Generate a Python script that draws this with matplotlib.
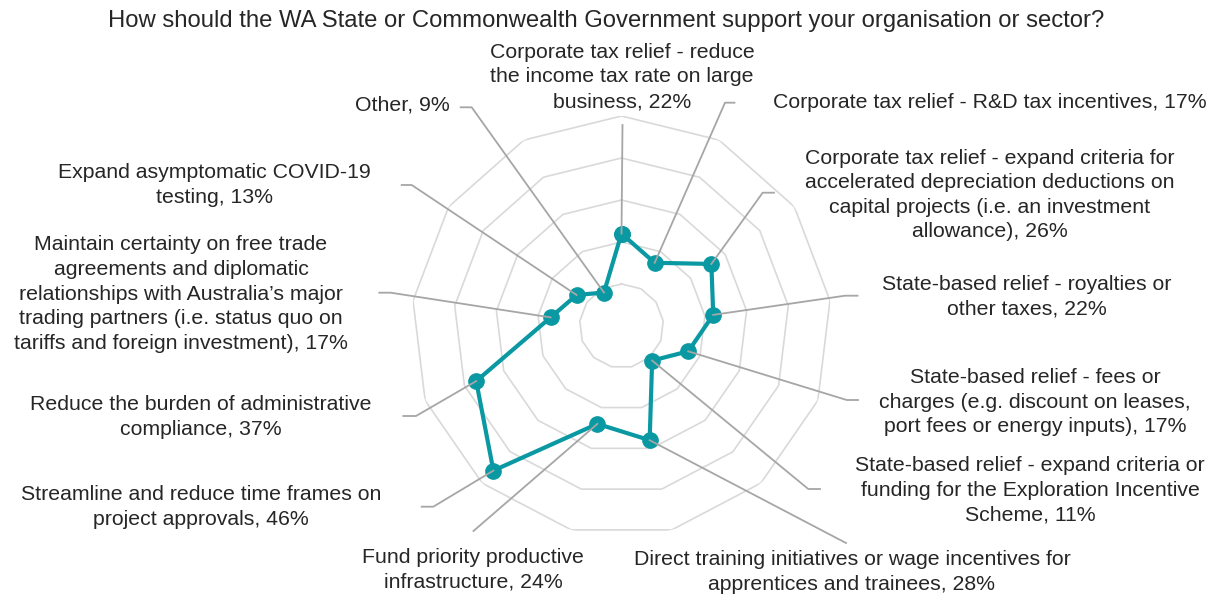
import numpy as np
import matplotlib
matplotlib.use("Agg")
import matplotlib.pyplot as plt
from matplotlib.lines import Line2D

# ---- data ----
title = "How should the WA State or Commonwealth Government support your organisation or sector?"
categories = [
    "Corporate tax relief - reduce\nthe income tax rate on large\nbusiness",
    "Corporate tax relief - R&D tax incentives",
    "Corporate tax relief - expand criteria for\naccelerated depreciation deductions on\ncapital projects (i.e. an investment\nallowance)",
    "State-based relief - royalties or\nother taxes",
    "State-based relief - fees or\ncharges (e.g. discount on leases,\nport fees or energy inputs)",
    "State-based relief - expand criteria or\nfunding for the Exploration Incentive\nScheme",
    "Direct training initiatives or wage incentives for\napprentices and trainees",
    "Fund priority productive\ninfrastructure",
    "Streamline and reduce time frames on\nproject approvals",
    "Reduce the burden of administrative\ncompliance",
    "Maintain certainty on free trade\nagreements and diplomatic\nrelationships with Australia\u2019s major\ntrading partners (i.e. status quo on\ntariffs and foreign investment)",
    "Expand asymptomatic COVID-19\ntesting",
    "Other",
]
values = [22, 17, 26, 22, 17, 11, 28, 24, 46, 37, 17, 13, 9]
ring_levels = [10, 20, 30, 40, 50]

# ---- layout (pixels in a 1211x597 canvas) ----
W, H = 1211, 597
cx, cy, R = 621.5, 326.0, 210.0
# label anchor (x, y, ha), leader elbow (x, y), leader end (x, y)
label_pos = [
    (622, 77, "center"),
    (773, 102, "left"),
    (990, 195, "center"),
    (1027, 297, "center"),
    (1035, 402, "center"),
    (1030, 490, "center"),
    (852, 572, "center"),
    (473, 570, "center"),
    (201, 507, "center"),
    (201, 417, "center"),
    (181, 294, "center"),
    (214, 185, "center"),
    (450, 105, "right"),
]
leader = [
    ((622.5, 125), (622.5, 125)),
    ((725, 102.7), (734.5, 102.7)),
    ((762.7, 192.7), (774, 192.7)),
    ((845, 295.7), (857.5, 295.7)),
    ((846.7, 400), (858, 400)),
    ((808.3, 489), (820, 489)),
    ((846, 543), (846, 543)),
    ((473.5, 531), (473.5, 531)),
    ((433.3, 506.7), (421.7, 506.7)),
    ((416, 416), (403.3, 416)),
    ((390.7, 292.7), (379.3, 292.7)),
    ((411.7, 185), (401.7, 185)),
    ((471.7, 107.3), (460.7, 107.3)),
]

TEAL = "#0a99a3"
RING = "#d9d9d9"
LEAD = "#a6a6a6"
FONT = ["Liberation Sans", "DejaVu Sans"]
FS = 15.3

fig = plt.figure(figsize=(W / 100, H / 100), dpi=100)
fig.patch.set_facecolor("white")

def fx(x):
    return x / W

def fy(y):
    return 1 - y / H

ax = fig.add_axes([fx(cx - R), fy(cy + R), 2 * R / W, 2 * R / H], projection="polar")
ax.set_theta_zero_location("N")
ax.set_theta_direction(-1)
ax.set_ylim(0, max(ring_levels))
ax.axis("off")

n = len(categories)
angles = np.arange(n) * 2 * np.pi / n
ang_c = np.append(angles, angles[0])

for lv in ring_levels:
    ax.plot(ang_c, [lv] * (n + 1), color=RING, lw=1.2, zorder=1)

# leader lines from data points to labels
fig.canvas.draw()
inv = fig.transFigure.inverted()
for i in range(n):
    px, py = ax.transData.transform((angles[i], values[i]))
    p0 = inv.transform((px, py))
    (ex, ey), (tx, tyy) = leader[i]
    xs = [p0[0], fx(ex), fx(tx)]
    ys = [p0[1], fy(ey), fy(tyy)]
    fig.add_artist(Line2D(xs, ys, transform=fig.transFigure, color=LEAD, lw=1.3, zorder=2))

vals_c = values + [values[0]]
ax.plot(ang_c, vals_c, color=TEAL, lw=3.0, marker="o", markersize=11,
        markerfacecolor=TEAL, markeredgecolor=TEAL, zorder=5, clip_on=False)

for i in range(n):
    x, y, ha = label_pos[i]
    fig.text(fx(x), fy(y), f"{categories[i]}, {values[i]}%", ha=ha, va="center",
             multialignment="center", fontsize=FS, family=FONT, color="#262626",
             linespacing=1.37)

fig.text(fx(606), fy(21), title, ha="center", va="center", fontsize=17.2,
         family=FONT, color="#262626")

fig.savefig("out.png", dpi=100, facecolor="white")
